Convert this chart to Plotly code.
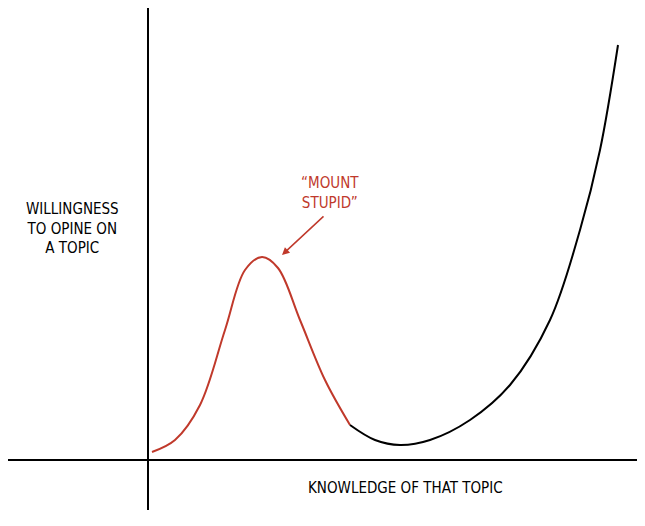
import plotly.graph_objects as go

# curve (x: knowledge, y: willingness; pixel-like units, y downward)
red_x = [152, 175, 200, 225, 245, 262, 278, 300, 325, 350]
red_y = [452, 440, 405, 330, 270, 257, 268, 320, 380, 425]
blk_x = [350, 375, 400, 430, 470, 510, 550, 580, 600, 618]
blk_y = [425, 440, 445, 440, 420, 385, 320, 230, 150, 45]

ylab = "WILLINGNESS<br>TO OPINE ON<br>A TOPIC"
xlab = "KNOWLEDGE OF THAT TOPIC"
peak_lab = "“MOUNT<br>STUPID”"

fig = go.Figure()
fig.add_trace(go.Scatter(x=red_x, y=red_y, mode="lines", line=dict(color="#c0392b", width=2, shape="spline")))
fig.add_trace(go.Scatter(x=blk_x, y=blk_y, mode="lines", line=dict(color="black", width=2, shape="spline")))
fig.add_shape(type="line", x0=148, x1=148, y0=5, y1=510, line=dict(color="black", width=2))
fig.add_shape(type="line", x0=0, x1=640, y0=460, y1=460, line=dict(color="black", width=2))
font = dict(family="DejaVu Sans Condensed", size=15, color="black")
fig.add_annotation(x=72, y=228, text=ylab, showarrow=False, font=font, align="center")
fig.add_annotation(x=405, y=488, text=xlab, showarrow=False, font=font)
fig.add_annotation(x=282, y=255, ax=325, ay=215, axref="x", ayref="y", text="", showarrow=True,
                   arrowhead=2, arrowcolor="#c0392b", arrowwidth=1.5)
fig.add_annotation(x=330, y=193, text=peak_lab, showarrow=False, align="center",
                   font=dict(family="DejaVu Sans Condensed", size=15, color="#c0392b"))
fig.update_layout(width=645, height=526, margin=dict(l=0, r=0, t=0, b=0), showlegend=False,
                  plot_bgcolor="white", paper_bgcolor="white",
                  xaxis=dict(range=[8, 653], visible=False),
                  yaxis=dict(range=[534, 8], visible=False))
fig.write_html("out.html")
